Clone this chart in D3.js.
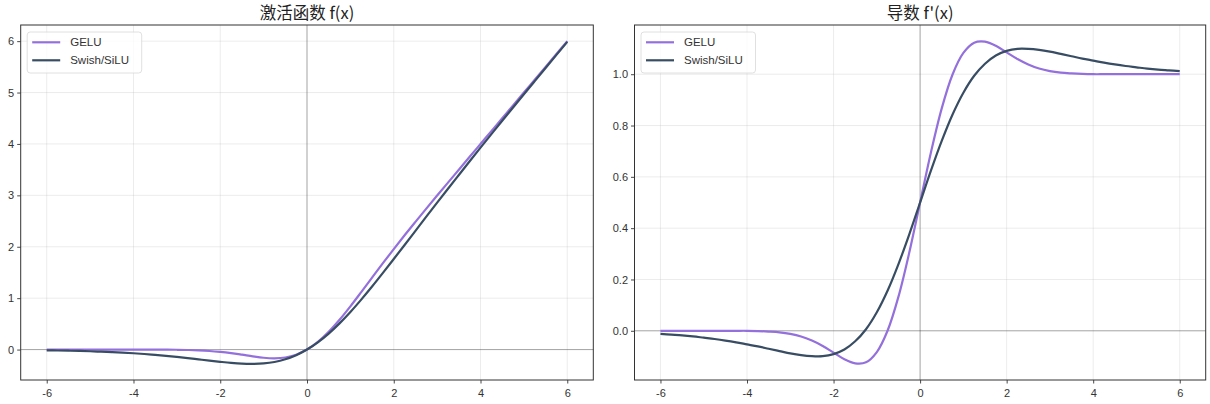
<!DOCTYPE html>
<html>
<head>
<meta charset="utf-8">
<script src="https://cdn.jsdelivr.net/npm/d3@7"></script>
<style>
  body { margin: 0; background: #fff; }
  svg { display: block; }
  .tick text { font-family: "Liberation Sans", Arial, sans-serif; font-size: 11px; fill: #333; }
  .title { font-family: "Noto Sans CJK SC", "Liberation Sans", sans-serif; font-size: 16.5px; fill: #222; }
  .legend-text { font-family: "Liberation Sans", Arial, sans-serif; font-size: 11.5px; fill: #333; }
</style>
</head>
<body>
<svg id="chart"></svg>
<script>
const svgWidth = 1210;
const svgHeight = 404;

// x samples
const xValues = [-6, -5.75, -5.5, -5.25, -5, -4.75, -4.5, -4.25, -4, -3.75, -3.5, -3.25, -3, -2.75, -2.5, -2.25,
  -2, -1.75, -1.5, -1.25, -1, -0.75, -0.5, -0.25, 0, 0.25, 0.5, 0.75, 1, 1.25, 1.5, 1.75,
  2, 2.25, 2.5, 2.75, 3, 3.25, 3.5, 3.75, 4, 4.25, 4.5, 4.75, 5, 5.25, 5.5, 5.75, 6];

// activation f(x)
const geluF = [0, 0, 0, 0, 0, 0, 0, 0, 0, 0, -0.001, -0.002, -0.004, -0.008, -0.016, -0.028,
  -0.046, -0.070, -0.100, -0.132, -0.159, -0.170, -0.154, -0.100, 0, 0.150, 0.346, 0.580, 0.841, 1.118, 1.400, 1.680,
  1.955, 2.223, 2.484, 2.742, 2.996, 3.248, 3.499, 3.750, 4.000, 4.250, 4.500, 4.750, 5.000, 5.250, 5.500, 5.750, 6.000];
const swishF = [-0.015, -0.018, -0.022, -0.027, -0.033, -0.041, -0.049, -0.060, -0.072, -0.086, -0.103, -0.121, -0.142, -0.165, -0.190, -0.215,
  -0.238, -0.259, -0.274, -0.278, -0.269, -0.241, -0.189, -0.109, 0, 0.141, 0.311, 0.509, 0.731, 0.972, 1.226, 1.491,
  1.762, 2.035, 2.310, 2.585, 2.858, 3.129, 3.397, 3.664, 3.928, 4.190, 4.451, 4.709, 4.967, 5.223, 5.478, 5.732, 5.985];

// derivative f'(x)
const geluD = [0, 0, 0, 0, 0, 0, 0, 0, 0, -0.001, -0.003, -0.006, -0.012, -0.022, -0.038, -0.059,
  -0.085, -0.111, -0.127, -0.123, -0.083, 0.001, 0.133, 0.305, 0.5, 0.695, 0.867, 0.999, 1.083, 1.123, 1.127, 1.111,
  1.085, 1.059, 1.038, 1.022, 1.012, 1.006, 1.003, 1.001, 1.000, 1.000, 1.000, 1.000, 1.000, 1.000, 1.000, 1.000, 1.000];
const swishD = [-0.012, -0.015, -0.018, -0.022, -0.027, -0.032, -0.038, -0.045, -0.053, -0.061, -0.070, -0.079, -0.088, -0.095, -0.099, -0.099,
  -0.091, -0.073, -0.041, 0.006, 0.072, 0.157, 0.260, 0.376, 0.5, 0.624, 0.740, 0.843, 0.928, 0.994, 1.041, 1.073,
  1.091, 1.099, 1.099, 1.095, 1.088, 1.079, 1.070, 1.061, 1.053, 1.045, 1.038, 1.032, 1.027, 1.022, 1.018, 1.015, 1.012];

const xTicks = [-6, -4, -2, 0, 2, 4, 6];
const yTicksF = [0, 1, 2, 3, 4, 5, 6];
const yTicksD = [0, 0.2, 0.4, 0.6, 0.8, 1.0];
const seriesNames = ["GELU", "Swish/SiLU"];
const seriesColors = ["#9370db", "#384d63"];

const svg = d3.select("#chart")
  .attr("width", svgWidth)
  .attr("height", svgHeight);

function drawPanel(opts) {
  const { left, right, top, bottom, yDomain, yTicks, yFormat, title, series } = opts;

  const x = d3.scaleLinear().domain([-6.6, 6.6]).range([left, right]);
  const y = d3.scaleLinear().domain(yDomain).range([bottom, top]);
  const g = svg.append("g");

  // grid
  g.append("g").selectAll("line")
    .data(xTicks).enter().append("line")
    .attr("x1", d => x(d)).attr("x2", d => x(d))
    .attr("y1", top).attr("y2", bottom)
    .attr("stroke", "#b0b0b0").attr("stroke-opacity", 0.3).attr("stroke-width", 0.8);
  g.append("g").selectAll("line")
    .data(yTicks).enter().append("line")
    .attr("x1", left).attr("x2", right)
    .attr("y1", d => y(d)).attr("y2", d => y(d))
    .attr("stroke", "#b0b0b0").attr("stroke-opacity", 0.3).attr("stroke-width", 0.8);

  // zero lines
  g.append("line")
    .attr("x1", left).attr("x2", right).attr("y1", y(0)).attr("y2", y(0))
    .attr("stroke", "#000").attr("stroke-opacity", 0.3).attr("stroke-width", 1);
  g.append("line")
    .attr("x1", x(0)).attr("x2", x(0)).attr("y1", top).attr("y2", bottom)
    .attr("stroke", "#000").attr("stroke-opacity", 0.3).attr("stroke-width", 1);

  // curves
  const line = d3.line()
    .x((d, i) => x(xValues[i]))
    .y(d => y(d))
    .curve(d3.curveCatmullRom.alpha(0.5));
  series.forEach((vals, i) => {
    g.append("path")
      .datum(vals)
      .attr("fill", "none")
      .attr("stroke", seriesColors[i])
      .attr("stroke-width", 2.2)
      .attr("d", line);
  });

  // axes
  const xAxis = d3.axisBottom(x).tickValues(xTicks).tickSize(3.5).tickPadding(3)
    .tickFormat(d => String(d));
  const yAxis = d3.axisLeft(y).tickValues(yTicks).tickSize(3.5).tickPadding(3)
    .tickFormat(yFormat);
  const gx = g.append("g").attr("transform", `translate(0,${bottom})`).call(xAxis);
  const gy = g.append("g").attr("transform", `translate(${left},0)`).call(yAxis);
  [gx, gy].forEach(a => {
    a.select(".domain").remove();
    a.selectAll(".tick line").attr("stroke", "#333").attr("stroke-width", 0.9);
  });
  gx.selectAll(".tick text").attr("dy", "0.95em");

  // frame
  g.append("rect")
    .attr("x", left).attr("y", top)
    .attr("width", right - left).attr("height", bottom - top)
    .attr("fill", "none").attr("stroke", "#333").attr("stroke-width", 1);

  // title
  g.append("text")
    .attr("class", "title")
    .attr("x", (left + right) / 2)
    .attr("y", 19)
    .attr("text-anchor", "middle")
    .text(title);

  // legend
  const lg = g.append("g").attr("transform", `translate(${left + 6.5},32)`);
  lg.append("rect")
    .attr("width", 114.5).attr("height", 41).attr("rx", 3)
    .attr("fill", "#fff").attr("fill-opacity", 0.8)
    .attr("stroke", "#d8d8d8").attr("stroke-width", 0.8);
  seriesNames.forEach((name, i) => {
    const yy = 10.3 + i * 18;
    lg.append("line")
      .attr("x1", 5).attr("x2", 33).attr("y1", yy).attr("y2", yy)
      .attr("stroke", seriesColors[i]).attr("stroke-width", 2.2);
    lg.append("text")
      .attr("class", "legend-text")
      .attr("x", 43).attr("y", yy + 4)
      .text(name);
  });
}

drawPanel({
  left: 20.7, right: 593.3, top: 25, bottom: 380,
  yDomain: [-0.592, 6.314], yTicks: yTicksF, yFormat: d3.format("d"),
  title: "激活函数 f(x)",
  series: [geluF, swishF]
});

drawPanel({
  left: 634.5, right: 1205.7, top: 25, bottom: 380,
  yDomain: [-0.1918, 1.1918], yTicks: yTicksD, yFormat: d3.format(".1f"),
  title: "导数 f'(x)",
  series: [geluD, swishD]
});
</script>
</body>
</html>
